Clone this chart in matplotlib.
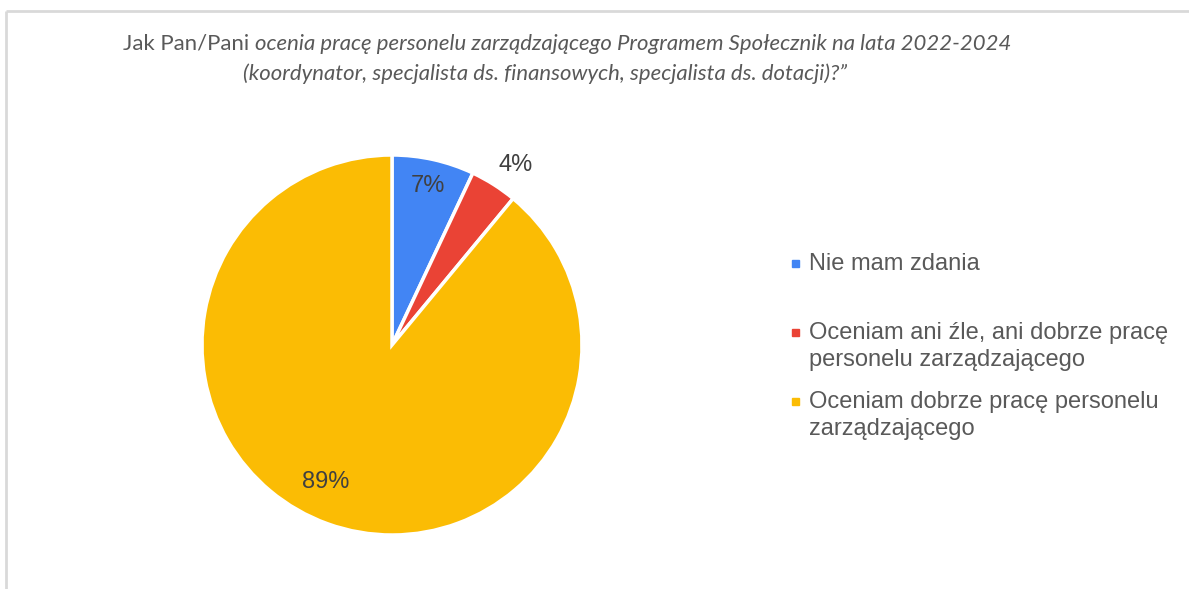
import matplotlib
matplotlib.use('Agg')
import matplotlib.pyplot as plt
from matplotlib.patches import Rectangle
import numpy as np

# survey answers
labels = ['Nie mam zdania',
          'Oceniam ani źle, ani dobrze pracę\npersonelu zarządzającego',
          'Oceniam dobrze pracę personelu\nzarządzającego']
shares = [7, 4, 89]
colors = ['#4285F4', '#EA4335', '#FBBC04']
# label distance from the centre (fraction of radius) and angular nudge in degrees
label_dist = [0.86, 1.15, 0.80]
label_nudge = [0, -2, -6]

title_plain = 'Jak Pan/Pani '
title_italic = 'ocenia pracę personelu zarządzającego Programem Społecznik na lata 2022-2024'
title_line2 = '(koordynator, specjalista ds. finansowych, specjalista ds. dotacji)?”'

W, H = 1189, 589
fig = plt.figure(figsize=(W / 100, H / 100), dpi=100)

# overlay in pixel coordinates for frame, title and legend
over = fig.add_axes([0, 0, 1, 1])
over.set_xlim(0, W)
over.set_ylim(H, 0)
over.axis('off')
over.plot([5.5, W], [10.5, 10.5], color='#d9d9d9', lw=2, solid_capstyle='butt')
over.plot([5.5, 5.5], [10.5, H], color='#d9d9d9', lw=2, solid_capstyle='butt')

tfont = dict(family='Lato', fontsize=15.9, color='#595959')
renderer = fig.canvas.get_renderer()
t1 = over.text(0, 44, title_plain, va='center', ha='left', **tfont)
t2 = over.text(0, 44, title_italic, va='center', ha='left', style='italic', **tfont)
w1 = t1.get_window_extent(renderer).width
w2 = t2.get_window_extent(renderer).width
x0 = 567 - (w1 + w2) / 2
t1.set_x(x0)
t2.set_x(x0 + w1)
over.text(545, 74, title_line2, va='center', ha='center', style='italic', **tfont)

# legend entries
lfont = dict(family='Liberation Sans', fontsize=17, color='#595959')
for i, (lab, col) in enumerate(zip(labels, colors)):
    y_top = 254 + i * 69
    over.add_patch(Rectangle((792, y_top + 6), 7, 7, color=col))
    over.text(809, y_top - 1, lab, va='top', ha='left', linespacing=1.3, **lfont)

# pie
ax = fig.add_axes([(392 - 190) / W, (H - 535) / H, 380 / W, 380 / H])
wedges, _ = ax.pie(shares, colors=colors, startangle=90, counterclock=False,
                   wedgeprops=dict(edgecolor='white', linewidth=2.5))
ax.set_xlim(-1, 1)
ax.set_ylim(-1, 1)
ax.set_aspect('equal')

for w, v, d, n in zip(wedges, shares, label_dist, label_nudge):
    ang = np.deg2rad((w.theta1 + w.theta2) / 2 + n)
    ax.text(d * np.cos(ang), d * np.sin(ang), f'{v}%', ha='center', va='center',
            family='Liberation Sans', fontsize=17, color='#404040')

fig.savefig('out.png', dpi=100)
